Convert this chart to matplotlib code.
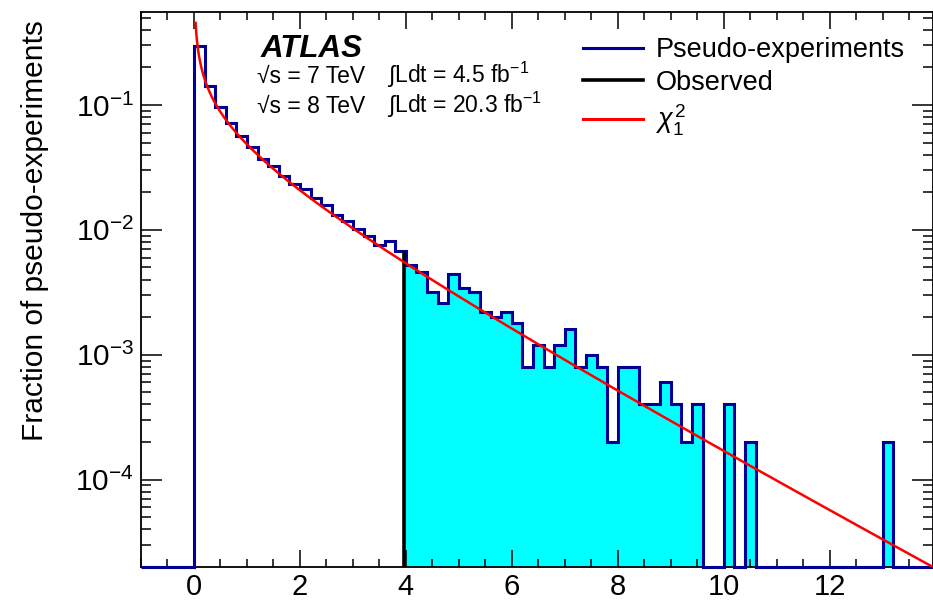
import matplotlib
matplotlib.use('Agg')
import matplotlib.pyplot as plt
from matplotlib.lines import Line2D
from matplotlib.ticker import MultipleLocator, LogLocator, NullFormatter
import numpy as np

plt.rcParams['font.family'] = ['Liberation Sans', 'DejaVu Sans']
plt.rcParams['mathtext.fontset'] = 'custom'
plt.rcParams['mathtext.rm'] = 'Liberation Sans'
plt.rcParams['mathtext.it'] = 'Liberation Sans:italic'
plt.rcParams['mathtext.bf'] = 'Liberation Sans:bold'

# pseudo-experiment counts, 0.2 wide bins from -1 to 14
n_pseudo = 5000
bin_lo, bin_hi, bin_width = -1.0, 14.0, 0.2
counts = [
    0, 0, 0, 0, 0,
    1480, 710, 480, 361, 282, 232, 184, 162, 134, 116,
    106, 90, 79, 66, 59, 51, 45, 38, 41, 34,
    26, 23, 16, 13, 22, 17, 16, 11, 10, 11,
    9, 4, 6, 4, 6, 8, 4, 5, 4, 1,
    4, 4, 2, 2, 3, 2, 1, 2, 0, 0,
    2, 0, 1, 0, 0, 0, 0, 0, 0, 0,
    0, 0, 0, 0, 0, 1, 0, 0, 0, 0,
]
observed = 3.96

y_min, y_max = 2e-5, 0.555
navy = '#000099'

edges = np.round(np.arange(bin_lo, bin_hi + bin_width / 2, bin_width), 2)
frac = np.array(counts, dtype=float) / n_pseudo

fig = plt.figure(figsize=(9.33, 6.0), dpi=100)
ax = fig.add_axes([141 / 933, 33 / 600, 792 / 933, 555 / 600])
ax.set_yscale('log')

# shaded tail beyond the observed value
tail = edges[1:] > observed
fill_edges = np.concatenate([[observed], edges[1:][tail]])
ax.stairs(np.where(frac[tail] > 0, frac[tail], 1e-9), fill_edges,
          baseline=1e-9, fill=True, color='#00ffff', lw=0, zorder=1)

# outline, empty bins drawn along the bottom of the frame
outline = np.where(frac > 0, frac, y_min)
ax.stairs(outline, edges, baseline=None, color=navy, lw=2.2,
          zorder=3, clip_on=False)

i_obs = np.searchsorted(edges, observed) - 1
ax.vlines(observed, y_min, frac[i_obs], color='black', lw=2.6, zorder=4)

# chi2 with one degree of freedom, scaled to the bin width
x = np.linspace(0.03, bin_hi, 2000)
chi2 = np.exp(-x / 2) / np.sqrt(2 * np.pi * x) * bin_width
ax.plot(x, chi2, color='red', lw=1.8, zorder=5)

ax.set_xlim(-1, 13.95)
ax.set_ylim(y_min, y_max)
ax.xaxis.set_major_locator(MultipleLocator(2))
ax.xaxis.set_minor_locator(MultipleLocator(0.5))
ax.yaxis.set_minor_locator(LogLocator(base=10, subs=np.arange(2, 10), numticks=30))
ax.yaxis.set_minor_formatter(NullFormatter())

ax.tick_params(which='both', direction='in', top=True, right=True,
               width=1.1, labelsize=21.5)
ax.tick_params(axis='x', which='major', length=12, pad=4, labelsize=21)
ax.tick_params(axis='x', which='minor', length=6)
ax.tick_params(axis='y', which='major', length=15, pad=5)
ax.tick_params(axis='y', which='minor', length=7.5)
for sp in ax.spines.values():
    sp.set_linewidth(1.3)

fig.text(35 / 933, 1 - 20 / 600, 'Fraction of pseudo-experiments',
         rotation=90, va='top', ha='center', fontsize=21.5)

fig.text(261 / 933, 1 - 57 / 600, 'ATLAS', fontsize=22.5,
         fontweight='bold', fontstyle='italic', va='baseline')
for yb, energy, lumi in [(83, '7', '4.5'), (113, '8', '20.3')]:
    fig.text(257 / 933, 1 - yb / 600, '\u221as = ' + energy + ' TeV',
             fontsize=16.5, va='baseline')
    fig.text(387 / 933, 1 - yb / 600,
             '\u222bLdt = ' + lumi + r' fb$^{-1}$',
             fontsize=16.5, va='baseline')

handles = [Line2D([], [], color=navy, lw=2.2),
           Line2D([], [], color='black', lw=2.6),
           Line2D([], [], color='red', lw=2.2)]
labels = ['Pseudo-experiments', 'Observed', r'$\chi^2_1$']
fig.legend(handles, labels, loc='upper left',
           bbox_to_anchor=(583 / 933, 1 - 37 / 600), frameon=False,
           fontsize=19.5, handlelength=2.2, handletextpad=0.5,
           labelspacing=0.25, borderpad=0, borderaxespad=0)

fig.savefig('out.png', dpi=100)
